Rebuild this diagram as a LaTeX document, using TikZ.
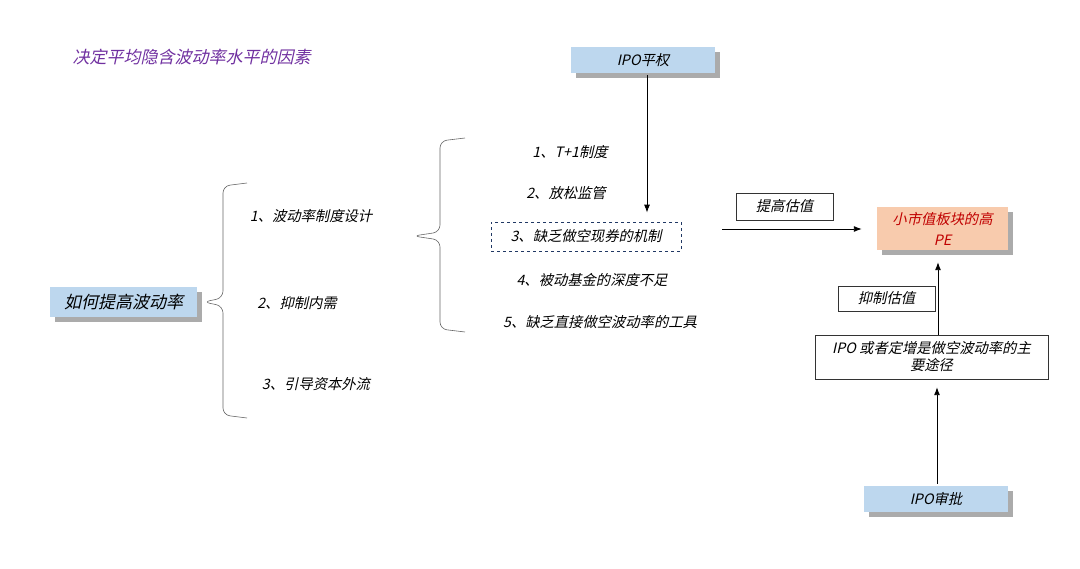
\documentclass[tikz,border=0pt]{standalone}
\usepackage{fontspec}
\setmainfont{Noto Sans CJK SC}[FakeSlant=0.22]
\usetikzlibrary{shadows,arrows.meta}
\definecolor{boxblue}{HTML}{BDD7EE}
\definecolor{peach}{HTML}{F8CBAD}
\definecolor{ttlpurple}{HTML}{7030A0}
\definecolor{pered}{HTML}{C00000}
\definecolor{dashblue}{HTML}{203864}

\begin{document}
\begin{tikzpicture}[x=1pt,y=-1pt,
  every node/.style={font=\fontsize{14.3}{17}\selectfont},
  big/.style={font=\fontsize{17}{20}\selectfont},
  shd/.style={drop shadow={shadow xshift=5pt,shadow yshift=-5pt,fill=black!55,opacity=.6}},
  hbox/.style={shd,fill=boxblue,minimum width=144,minimum height=26,inner sep=1pt},
  lbl/.style={draw=black!80,fill=white,minimum width=97,minimum height=26,inner sep=1pt},
  arr/.style={-{Latex[length=8pt,width=6pt]},line width=.9pt},
  brc/.style={draw=black!60,rounded corners=7pt,line width=.6pt}
]
  \useasboundingbox (0,0) rectangle (1080,569);

  \node[anchor=west,text=ttlpurple,big] (ttl) at (69,57) {决定平均隐含波动率水平的因素};

  \node[hbox,minimum width=147,minimum height=30,big] (how) at (123.5,302) {如何提高波动率};
  \node[hbox] (ipo) at (643,60) {IPO平权};
  \node[hbox] (apv) at (936,499) {IPO审批};
  \node[shd,fill=peach,text=pered,minimum width=131,minimum height=43,inner sep=1pt,align=center] (pe) at (942.5,228.5) {小市值板块的高\\[4pt]PE};

  \node (a1) at (311,216) {1、波动率制度设计};
  \node (a2) at (297,303) {2、抑制内需};
  \node (a3) at (316,384) {3、引导资本外流};

  \node (b1) at (570,152) {1、T+1制度};
  \node (b2) at (566,193) {2、放松监管};
  \node[draw=dashblue,dashed,line width=.7pt,minimum width=190,minimum height=29,inner sep=1pt] (dash) at (586,236.5) {3、缺乏做空现券的机制};
  \node (b4) at (592,280) {4、被动基金的深度不足};
  \node (b5) at (600,322) {5、缺乏直接做空波动率的工具};

  \node[lbl,minimum height=27] (up) at (784.5,206.5) {提高估值};
  \node[lbl,minimum height=25] (down) at (886.5,298.5) {抑制估值};
  \node[draw=black!80,minimum width=233,minimum height=44,inner sep=1pt,align=center] (route) at (931.5,357) {IPO 或者定增是做空波动率的主\\要途径};

  % braces
  \coordinate (t1) at ([xshift=6pt]how.east);
  \coordinate (t2) at (413,236);
  \draw[brc] (247,183) -- (223,186) -- (223,298) -- (t1) -- (223,306) -- (223,415) -- (247,418);
  \draw[brc] (465,138) -- (440,141) -- (440,232) -- (t2) -- (440,240) -- (440,329) -- (465,332);

  % arrows
  \coordinate (h0) at (722,229);
  \draw[arr,shorten <=2pt,shorten >=9pt] ([xshift=4pt]ipo.south) -- ([xshift=4pt]ipo.south |- dash.north);
  \draw[arr] (h0) -- ([xshift=-15pt]pe.west |- h0);
  \draw[arr,shorten >=12pt] (route.north -| 938,0) -- (pe.south -| 938,0);
  \draw[arr,shorten <=2pt,shorten >=8pt] ([xshift=1pt]apv.north) -- ([xshift=1pt]apv.north |- route.south);
\end{tikzpicture}
\end{document}
